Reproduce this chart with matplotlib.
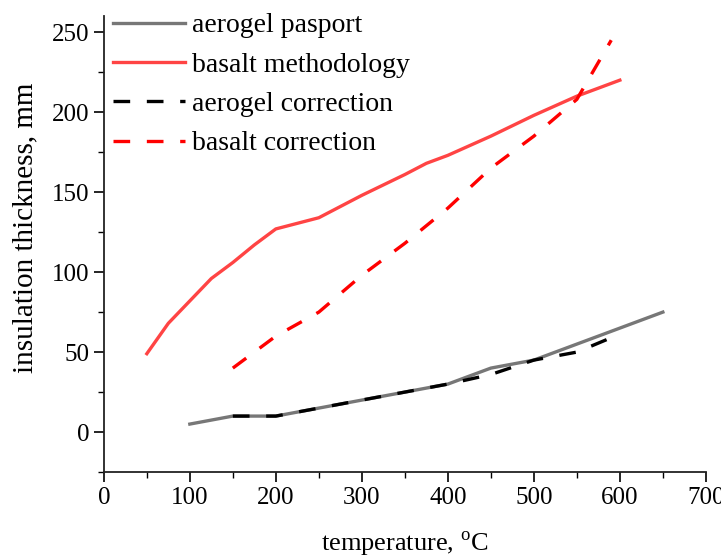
import numpy as np
import matplotlib.pyplot as plt
from matplotlib.ticker import MultipleLocator

# --- Daten ---
t_aero = [100, 150, 200, 250, 300, 350, 400, 450, 500, 550, 600, 650]
d_aero = [5, 10, 10, 15, 20, 25, 30, 40, 45, 55, 65, 75]

t_bas = [50, 75, 100, 125, 150, 175, 200, 250, 300, 350, 375, 400, 450, 500, 550, 600]
d_bas = [49, 68, 82, 96, 106, 117, 127, 134, 148, 161, 168, 173, 185, 198, 210, 220]

t_aero_corr = [150, 200, 250, 300, 350, 400, 450, 500, 550, 590]
d_aero_corr = [10, 10, 15, 20, 25, 30, 36, 45, 50, 59]

t_bas_corr = [150, 200, 250, 300, 350, 400, 450, 500, 550, 590]
d_bas_corr = [40, 60, 75, 98, 118, 140, 165, 185, 208, 245]

plt.rcParams['font.family'] = ['Liberation Serif', 'DejaVu Serif']
plt.rcParams['mathtext.fontset'] = 'custom'
plt.rcParams['mathtext.rm'] = 'Liberation Serif'

fig = plt.figure(figsize=(7.21, 5.58), dpi=100)
ax = fig.add_axes([0.144, 0.154, 0.835, 0.817])

lw = 2.4
dash = (0, (5, 5))
ax.plot(t_aero, d_aero, color="#777777", lw=lw, label="aerogel pasport")
ax.plot(t_bas, d_bas, color="#ff4444", lw=lw, label="basalt methodology")
ax.plot(t_aero_corr, d_aero_corr, color="black", lw=lw, ls=dash,
        label="aerogel correction")
ax.plot(t_bas_corr, d_bas_corr, color="#ff0000", lw=lw, ls=dash,
        label="basalt correction")

ax.set_xlim(0, 700)
ax.set_ylim(-25, 260)
ax.xaxis.set_major_locator(MultipleLocator(100))
ax.xaxis.set_minor_locator(MultipleLocator(50))
ax.yaxis.set_minor_locator(MultipleLocator(25))
ax.set_yticks([0, 50, 100, 150, 200, 250])

for s in ["top", "right"]:
    ax.spines[s].set_visible(False)
for s in ["left", "bottom"]:
    ax.spines[s].set_linewidth(1.3)
    ax.spines[s].set_color("#222222")

ax.tick_params(which="major", direction="out", length=7, width=1.2, labelsize=18)
ax.tick_params(which="minor", direction="out", length=4, width=1.0)

ax.set_xlabel("temperature, $^{\\rm o}$C", fontsize=19)
ax.xaxis.set_label_coords(0.5, -0.127)
ax.set_ylabel("insulation thickness, mm", fontsize=21)
ax.yaxis.set_label_coords(-0.131, 0.535)
ax.yaxis.label.set_va("center")

ax.legend(loc="upper left", bbox_to_anchor=(113 / 721, 1 - 13 / 558),
          bbox_transform=fig.transFigure, frameon=False, borderpad=0,
          borderaxespad=0, fontsize=20, handlelength=2.6, labelspacing=0.5,
          handletextpad=0.25)

plt.savefig("out.png", dpi=100)
